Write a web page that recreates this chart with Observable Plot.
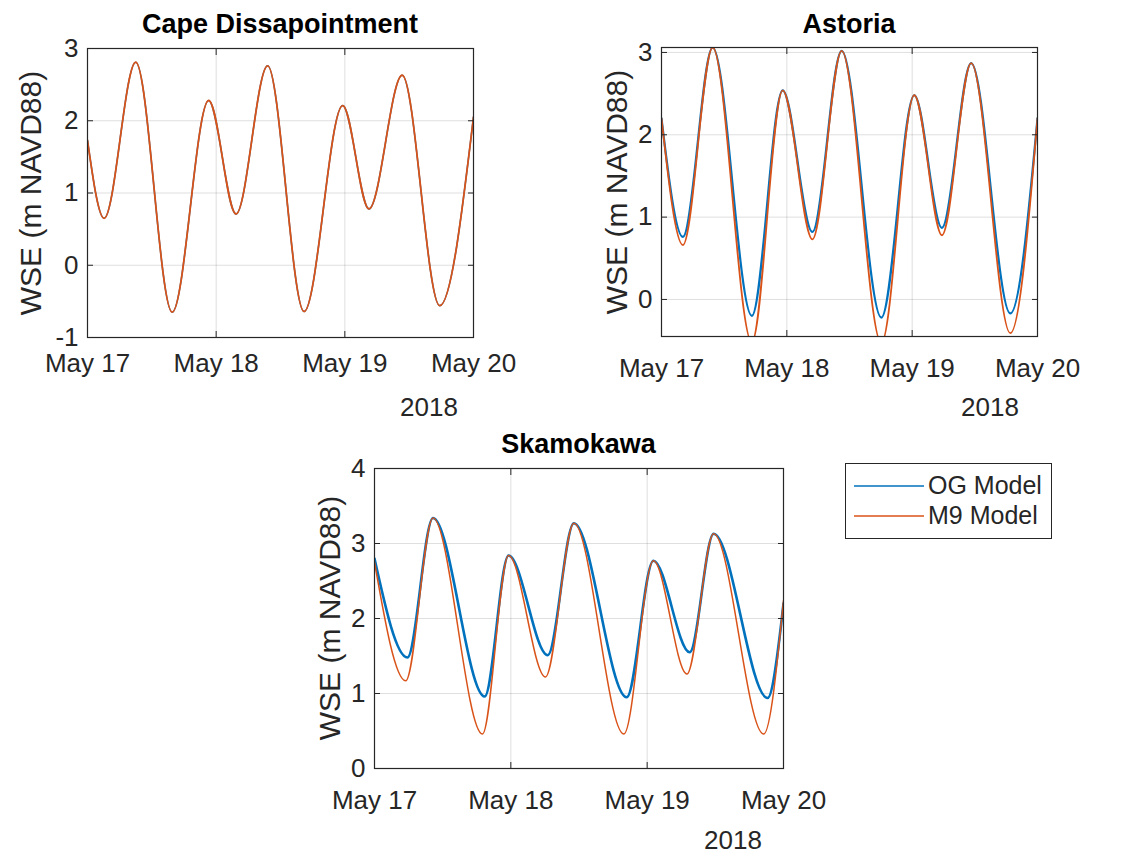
<!DOCTYPE html>
<html>
<head>
<meta charset="utf-8">
<script src="https://cdn.jsdelivr.net/npm/d3@7"></script>
<script src="https://cdn.jsdelivr.net/npm/@observablehq/plot@0.6"></script>
<style>
  html, body { margin: 0; padding: 0; background: #fff; }
  #fig { position: relative; width: 1134px; height: 855px; background: #fff; font-family: "Liberation Sans", Arial, Helvetica, sans-serif; color: #262626; }
  .abs { position: absolute; }
  .title { font-weight: bold; font-size: 27px; color: #000; transform: translateX(-50%); white-space: nowrap; }
  .ylab { font-size: 30px; white-space: nowrap; transform: translate(-50%, -50%) rotate(-90deg); }
  .year { font-size: 26px; transform: translateX(-50%); white-space: nowrap; }
  .legend { border: 1px solid #262626; background: #fff; font-size: 25px; box-sizing: border-box; }
  .legend .row { position: absolute; left: 0; display: flex; align-items: center; }
</style>
</head>
<body>
<div id="fig"></div>
<script>
// ---------- data (hours after 2018-05-17 00:00, WSE in m NAVD88) ----------
const xTickLabels = ["May 17", "May 18", "May 19", "May 20"];
const xTickHours = [0, 24, 48, 72];
const seriesNames = ["OG Model", "M9 Model"];

// Cape Dissapointment (both models coincide)
const capeHours = [0, 3.1, 9.0, 15.8, 22.6, 27.7, 33.6, 40.4, 47.6, 52.5, 58.7, 65.7, 72];
const capeOG    = [1.73, 0.65, 2.81, -0.65, 2.28, 0.71, 2.76, -0.64, 2.21, 0.78, 2.63, -0.56, 2.05];
const capeM9    = [1.73, 0.65, 2.81, -0.65, 2.28, 0.71, 2.76, -0.64, 2.21, 0.78, 2.63, -0.56, 2.05];
const capeYTicks = [-1, 0, 1, 2, 3];

// Astoria
const astHours = [0, 4.1, 9.8, 17.3, 23.2, 28.9, 34.5, 42.1, 48.4, 53.7, 59.3, 66.8, 72];
const astOG    = [2.2, 0.76, 3.06, -0.2, 2.54, 0.82, 3.02, -0.22, 2.48, 0.87, 2.87, -0.17, 2.2];
const astM9    = [2.2, 0.66, 3.06, -0.52, 2.54, 0.73, 3.02, -0.53, 2.48, 0.78, 2.87, -0.41, 2.2];
const astYTicks = [0, 1, 2, 3];

// Skamokawa
const skaHoursOG = [0, 5.8, 10.3, 19.4, 23.6, 30.5, 35.1, 44.4, 49.1, 55.5, 59.7, 69.2, 72];
const skaOG      = [2.8, 1.48, 3.34, 0.96, 2.84, 1.51, 3.27, 0.95, 2.77, 1.55, 3.13, 0.94, 2.2];
const skaHoursM9 = [0, 5.5, 10.3, 19.0, 23.6, 30.1, 35.1, 43.9, 49.1, 55.0, 59.7, 68.5, 72];
const skaM9      = [2.75, 1.17, 3.34, 0.46, 2.84, 1.22, 3.27, 0.46, 2.77, 1.26, 3.13, 0.46, 2.24];
const skaYTicks = [0, 1, 2, 3, 4];

// ---------- helpers ----------
const t0 = Date.UTC(2018, 4, 17);
const toDate = h => new Date(t0 + h * 3600e3);
const dayTicks = xTickHours.map(toDate);
const colors = {"OG Model": "#0072BD", "M9 Model": "#D95319"};
const fig = document.getElementById("fig");

function rows(hours, values, name) {
  return hours.map((h, i) => ({time: toDate(h), wse: values[i], model: name}));
}

function add(cls, style, text) {
  const d = document.createElement("div");
  d.className = "abs " + cls;
  Object.assign(d.style, style);
  if (text != null) d.textContent = text;
  fig.appendChild(d);
  return d;
}

function panel({left, top, width, height, mL, mR, mT, mB, yDomain, yTicks, og, m9, ogWidth, m9Width, title, titleY, ylabX, yearX, yearY, xPad}) {
  const xLabel = d => xTickLabels[dayTicks.findIndex(t => +t === +d)];
  const p = Plot.plot({
    width, height,
    marginLeft: mL, marginRight: mR, marginTop: mT, marginBottom: mB,
    style: {fontFamily: "'Liberation Sans', Arial, Helvetica, sans-serif", fontSize: "26px", color: "#262626", background: "transparent", overflow: "visible"},
    x: {type: "utc", domain: [dayTicks[0], dayTicks[3]]},
    y: {domain: yDomain},
    marks: [
      Plot.gridX(dayTicks, {stroke: "#262626", strokeOpacity: 0.15, strokeWidth: 1}),
      Plot.gridY(yTicks, {stroke: "#262626", strokeOpacity: 0.15, strokeWidth: 1}),
      Plot.line(og, {x: "time", y: "wse", stroke: colors["OG Model"], strokeWidth: ogWidth, curve: "monotone-x", clip: true}),
      Plot.line(m9, {x: "time", y: "wse", stroke: colors["M9 Model"], strokeWidth: m9Width, curve: "monotone-x", clip: true}),
      Plot.frame({stroke: "#262626", strokeWidth: 1.2}),
      Plot.axisX(dayTicks, {anchor: "bottom", tickSize: -6, tickPadding: xPad + 6, tickFormat: xLabel, label: null, fontSize: 26, stroke: "#262626"}),
      Plot.axisX(dayTicks, {anchor: "top", tickSize: -6, tickFormat: () => "", label: null, stroke: "#262626"}),
      Plot.axisY(yTicks, {anchor: "left", tickSize: -6, tickPadding: 15, tickFormat: d => String(d), label: null, fontSize: 26, stroke: "#262626"}),
      Plot.axisY(yTicks, {anchor: "right", tickSize: -6, tickFormat: () => "", label: null, stroke: "#262626"})
    ]
  });
  p.style.position = "absolute";
  p.style.left = left + "px";
  p.style.top = top + "px";
  fig.appendChild(p);
  const cx = left + mL + (width - mL - mR) / 2;
  add("title", {left: cx + "px", top: titleY + "px"}, title);
  add("ylab", {left: ylabX + "px", top: (top + mT + (height - mT - mB) / 2) + "px"}, "WSE (m NAVD88)");
  add("year", {left: yearX + "px", top: yearY + "px"}, "2018");
}

panel({
  left: 0, top: 0, width: 560, height: 420, mL: 87, mR: 87, mT: 48, mB: 83,
  yDomain: [-1, 3], yTicks: capeYTicks,
  og: rows(capeHours, capeOG, "OG Model"), m9: rows(capeHours, capeM9, "M9 Model"),
  ogWidth: 1.5, m9Width: 1.8,
  title: "Cape Dissapointment", titleY: 9, ylabX: 31, yearX: 429, yearY: 392, xPad: 16
});

panel({
  left: 560, top: 0, width: 574, height: 420, mL: 101, mR: 97, mT: 47, mB: 84,
  yDomain: [-0.45, 3.06], yTicks: astYTicks,
  og: rows(astHours, astOG, "OG Model"), m9: rows(astHours, astM9, "M9 Model"),
  ogWidth: 2.2, m9Width: 1.8,
  title: "Astoria", titleY: 9, ylabX: 617, yearX: 990, yearY: 392, xPad: 22
});

panel({
  left: 290, top: 420, width: 560, height: 435, mL: 84, mR: 67, mT: 48, mB: 87,
  yDomain: [0, 4], yTicks: skaYTicks,
  og: rows(skaHoursOG, skaOG, "OG Model"), m9: rows(skaHoursM9, skaM9, "M9 Model"),
  ogWidth: 2.6, m9Width: 1.5,
  title: "Skamokawa", titleY: 429, ylabX: 330, yearX: 733, yearY: 825, xPad: 22
});

// legend
const lg = add("legend", {left: "845px", top: "463px", width: "207px", height: "76px"});
seriesNames.forEach((name, i) => {
  const r = document.createElement("div");
  r.className = "row";
  r.style.top = (7 + i * 30) + "px";
  r.style.left = "8px";
  r.innerHTML = `<svg width="70" height="28"><line x1="0" x2="70" y1="14" y2="14" stroke="${colors[name]}" stroke-width="1.6"/></svg><span style="margin-left:4px">${name}</span>`;
  lg.appendChild(r);
});
</script>
</body>
</html>
